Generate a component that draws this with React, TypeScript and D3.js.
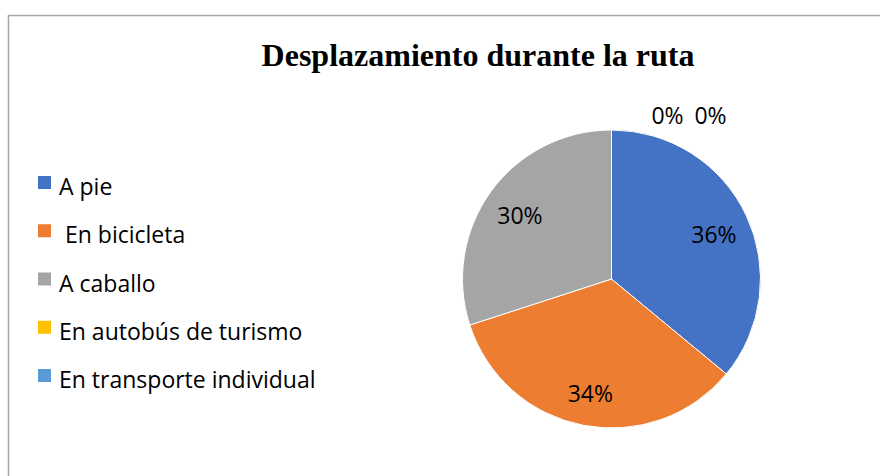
import React from 'react'
import * as d3 from 'd3'

const categories = ['A pie', ' En bicicleta', 'A caballo', 'En autobús de turismo', 'En transporte individual']
const values = [36, 34, 30, 0, 0]
const colors = ['#4472C4', '#ED7D31', '#A5A5A5', '#FFC000', '#5B9BD5']
const title = 'Desplazamiento durante la ruta'

const W = 880
const H = 476
const cx = 611.5
const cy = 279
const radius = 149

const App = () => {
  const total = d3.sum(values)
  const pie = d3.pie<number>().sort(null).value((d) => d)
  const arcs = pie(values)
  const arc = d3.arc<any>().innerRadius(0).outerRadius(radius)
  // data labels sit a bit past the middle of each slice, like Excel's best fit
  const labelArc = d3.arc<any>().innerRadius(radius * 0.76).outerRadius(radius * 0.76)

  const legendY = d3.scalePoint<number>().domain(d3.range(categories.length)).range([182.5, 375.5])

  let zeroIdx = 0

  return (
    <svg
      width={W}
      height={H}
      style={{ position: 'absolute', left: 0, top: 0, background: '#fff' }}
    >
      <rect x={8.5} y={15.5} width={W} height={H} fill="#fff" stroke="#a6a6a6" strokeWidth={1.5} />
      <text
        x={478}
        y={66}
        textAnchor="middle"
        fontFamily="'Liberation Serif', serif"
        fontWeight="bold"
        fontSize={32}
        fill="#000"
      >
        {title}
      </text>

      <g transform={`translate(${cx},${cy})`}>
        {arcs.map((a, i) => (
          <path key={i} d={arc(a) || ''} fill={colors[i]} stroke="#fff" strokeWidth={1} />
        ))}
        {arcs.map((a, i) => {
          const pct = `${Math.round((values[i] / total) * 100)}%`
          let lx, ly
          if (values[i] === 0) {
            // empty slices: labels outside, next to each other above the top
            const k = zeroIdx++
            lx = 56 + k * 43
            ly = -radius - 15
          } else {
            ;[lx, ly] = labelArc.centroid(a)
            ly += 3
          }
          return (
            <text
              key={'l' + i}
              x={lx}
              y={ly}
              textAnchor="middle"
              dominantBaseline="central"
              fontFamily="'Open Sans', sans-serif"
              fontSize={23}
              fill="#000"
            >
              {pct}
            </text>
          )
        })}
      </g>

      <g>
        {categories.map((c, i) => (
          <g key={c} transform={`translate(38,${legendY(i)})`}>
            <rect x={0} y={-6.5} width={13} height={13} fill={colors[i]} />
            <text
              x={21}
              y={12.5}
              fontFamily="'Open Sans', sans-serif"
              fontSize={23}
              fill="#000"
              style={{ whiteSpace: 'pre' }}
            >
              {c}
            </text>
          </g>
        ))}
      </g>
    </svg>
  )
}

export default App
